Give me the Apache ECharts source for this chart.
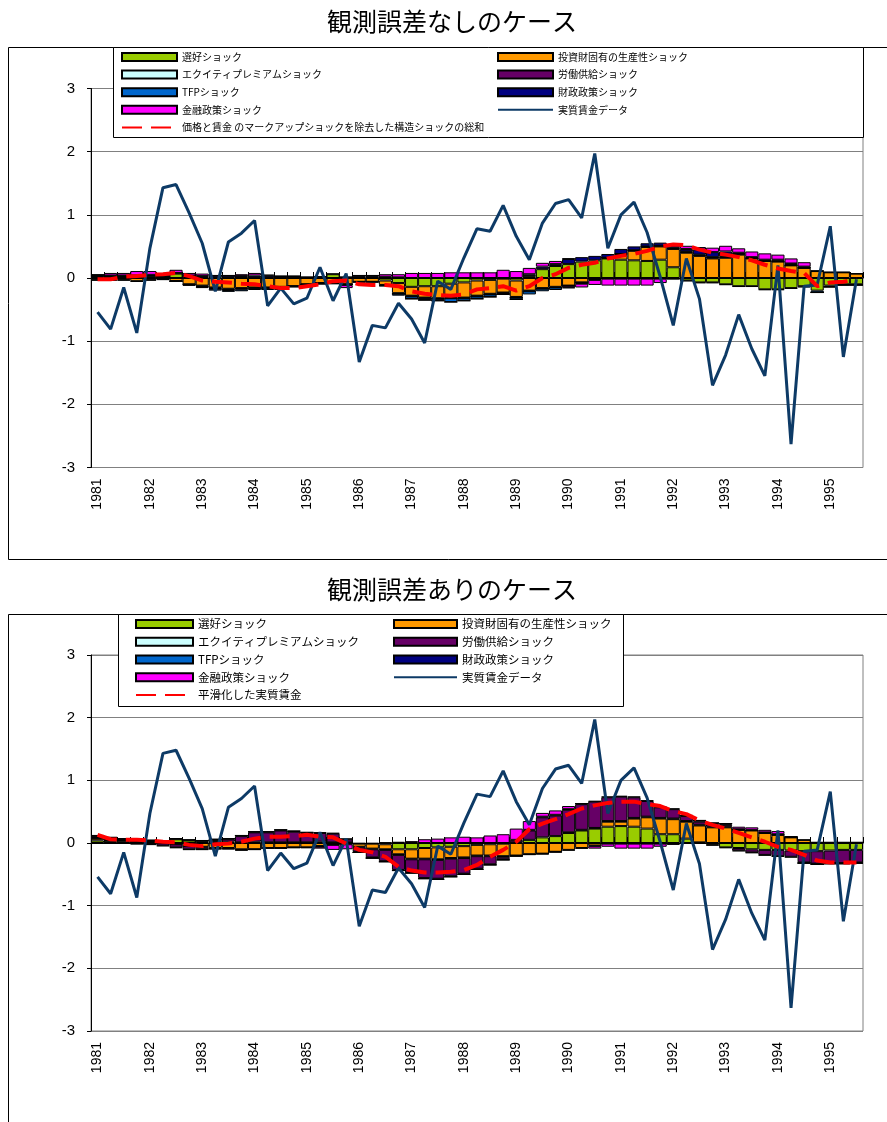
<!DOCTYPE html>
<html>
<head>
<meta charset="utf-8">
<script src="https://cdn.jsdelivr.net/npm/echarts@6/dist/echarts.min.js"></script>
<style>
html, body { margin: 0; padding: 0; background: #fff; }
#main { width: 887px; height: 1122px; }
</style>
</head>
<body>
<div id="main"></div>
<script>
// Quarterly axis: 1981Q1 .. 1995Q3
const years = [1981, 1982, 1983, 1984, 1985, 1986, 1987, 1988, 1989, 1990, 1991, 1992, 1993, 1994, 1995];
const categories = [];
years.forEach(y => { ['Q1', 'Q2', 'Q3', 'Q4'].forEach(q => categories.push(y + q)); });
categories.length = 59;

const yTicks = { min: -3, max: 3, step: 1 };

// Real wage data (common to both panels)
const realWage = [
  -0.54, -0.81, -0.15, -0.87, 0.47, 1.43, 1.48, 1.03, 0.55, -0.21,
  0.57, 0.71, 0.91, -0.44, -0.16, -0.41, -0.32, 0.17, -0.36, 0.07,
  -1.33, -0.75, -0.79, -0.40, -0.65, -1.03, -0.05, -0.18, 0.32, 0.78,
  0.74, 1.15, 0.66, 0.29, 0.87, 1.18, 1.24, 0.95, 1.97, 0.47,
  1.00, 1.20, 0.72, 0.02, -0.75, 0.31, -0.33, -1.70, -1.22, -0.58,
  -1.12, -1.55, 0.20, -2.63, -0.13, -0.11, 0.82, -1.25, -0.02
];

// ---- Panel 1: without measurement error ----
const pref1 = [
  0.02, 0.01, 0.01, 0.02, 0.03, 0.02, 0.07, 0.03, 0.01, 0.01,
  0.01, 0.01, 0.01, 0.01, 0.01, 0.01, 0.01, 0.01, 0.06, 0.01,
  0.01, 0.01, -0.04, -0.08, -0.14, -0.13, -0.13, -0.09, -0.07, -0.04,
  -0.03, -0.01, -0.04, 0.03, 0.14, 0.19, 0.22, 0.26, 0.28, 0.31,
  0.29, 0.28, 0.27, 0.29, 0.17, -0.04, -0.07, -0.07, -0.10, -0.13,
  -0.13, -0.18, -0.18, -0.16, -0.13, -0.20, -0.12, -0.10, -0.10
];
const invest1 = [
  -0.03, -0.03, -0.03, -0.05, -0.03, -0.02, -0.05, -0.10, -0.12, -0.15,
  -0.17, -0.16, -0.15, -0.15, -0.14, -0.13, -0.10, -0.08, -0.07, -0.10,
  -0.06, -0.06, -0.07, -0.16, -0.14, -0.18, -0.19, -0.22, -0.24, -0.24,
  -0.22, -0.22, -0.26, -0.20, -0.16, -0.14, -0.12, -0.07, -0.01, 0.01,
  0.08, 0.15, 0.22, 0.21, 0.29, 0.40, 0.35, 0.31, 0.32, 0.37,
  0.31, 0.27, 0.26, 0.20, 0.16, 0.11, 0.09, 0.09, 0.07
];
const equity1 = [
  0.01, 0.01, 0.01, 0.01, 0.01, 0.01, 0.00, 0.00, -0.01, -0.01,
  -0.01, -0.01, -0.01, -0.01, -0.01, 0.00, 0.00, 0.00, 0.00, 0.00,
  0.00, 0.00, -0.01, -0.01, -0.01, -0.01, -0.01, -0.01, -0.01, -0.01,
  -0.01, -0.01, -0.01, -0.01, -0.01, -0.01, 0.00, 0.00, 0.00, 0.00,
  0.01, 0.01, 0.01, 0.01, 0.01, 0.01, 0.01, 0.01, 0.01, 0.01,
  0.00, 0.00, 0.00, 0.00, 0.00, 0.00, 0.00, 0.00, 0.00
];
const labor1 = [
  0.01, 0.01, 0.01, 0.00, 0.00, 0.00, 0.00, -0.01, -0.01, -0.01,
  -0.01, -0.01, 0.00, 0.00, 0.00, 0.00, 0.00, 0.00, 0.00, 0.00,
  0.01, 0.01, 0.01, 0.00, 0.00, 0.00, 0.00, 0.00, 0.00, 0.00,
  0.00, 0.00, 0.00, 0.00, 0.00, 0.00, -0.03, -0.01, -0.01, 0.00,
  0.00, 0.00, 0.00, 0.00, 0.01, 0.01, 0.01, 0.01, 0.01, 0.01,
  0.01, 0.01, 0.02, 0.02, 0.01, 0.00, 0.00, 0.00, 0.00
];
const tfp1 = [
  -0.01, -0.01, -0.01, -0.01, -0.01, -0.01, -0.01, -0.01, -0.02, -0.03,
  -0.03, -0.03, -0.03, -0.03, -0.04, -0.02, -0.02, -0.01, -0.01, -0.01,
  -0.01, -0.01, -0.01, -0.03, -0.04, -0.03, -0.03, -0.06, -0.04, -0.04,
  -0.04, -0.02, -0.03, -0.05, -0.04, -0.04, -0.01, -0.01, -0.01, -0.01,
  -0.01, -0.01, -0.01, -0.01, -0.01, -0.01, -0.01, -0.01, -0.01, -0.01,
  -0.01, -0.01, -0.01, -0.01, -0.02, -0.03, -0.02, -0.01, -0.01
];
const fiscal1 = [
  0.01, 0.01, 0.01, 0.01, 0.01, 0.01, 0.01, 0.01, 0.02, 0.03,
  0.03, 0.02, 0.03, 0.03, 0.02, 0.02, 0.01, 0.02, 0.01, 0.01,
  0.02, 0.02, 0.01, 0.01, 0.00, 0.00, 0.00, 0.00, 0.00, 0.00,
  0.00, 0.00, 0.00, 0.03, 0.04, 0.03, 0.08, 0.07, 0.07, 0.06,
  0.08, 0.06, 0.05, 0.05, 0.05, 0.04, 0.08, 0.08, 0.08, 0.01,
  0.01, 0.01, 0.01, 0.01, 0.01, 0.00, 0.00, 0.00, 0.00
];
const monetary1 = [
  0.00, 0.04, 0.04, 0.07, 0.06, 0.04, 0.05, 0.04, 0.04, 0.00,
  0.00, 0.03, 0.04, 0.01, 0.00, 0.00, -0.01, -0.01, -0.02, -0.05,
  0.00, 0.00, 0.04, 0.05, 0.08, 0.08, 0.08, 0.09, 0.09, 0.09,
  0.09, 0.13, 0.11, 0.10, 0.06, 0.05, 0.01, -0.06, -0.08, -0.11,
  -0.11, -0.11, -0.11, -0.07, -0.01, 0.05, 0.04, 0.07, 0.09, 0.07,
  0.09, 0.10, 0.08, 0.08, 0.07, 0.00, 0.00, 0.00, 0.00
];
const shockSum1 = [
  -0.02, -0.02, 0.02, 0.03, 0.05, 0.06, 0.08, 0.03, -0.04, -0.06,
  -0.07, -0.09, -0.10, -0.13, -0.16, -0.16, -0.13, -0.10, -0.05, -0.04,
  -0.10, -0.11, -0.11, -0.13, -0.21, -0.25, -0.27, -0.28, -0.26, -0.18,
  -0.16, -0.13, -0.20, -0.13, 0.00, 0.06, 0.16, 0.21, 0.24, 0.31,
  0.35, 0.38, 0.43, 0.50, 0.53, 0.52, 0.45, 0.40, 0.37, 0.33,
  0.28, 0.21, 0.15, 0.11, 0.08, -0.13, -0.07, -0.06, -0.02
];

// ---- Panel 2: with measurement error ----
const pref2 = [
  0.04, 0.03, 0.03, 0.02, 0.02, 0.01, 0.06, 0.04, 0.03, 0.03,
  0.02, 0.01, 0.02, 0.01, 0.01, 0.01, 0.01, 0.02, 0.01, 0.01,
  -0.01, -0.01, -0.02, -0.10, -0.10, -0.08, -0.07, -0.06, -0.05, -0.03,
  -0.02, -0.01, 0.01, 0.05, 0.09, 0.11, 0.16, 0.20, 0.23, 0.26,
  0.27, 0.26, 0.23, 0.14, 0.14, 0.07, 0.01, -0.03, -0.07, -0.08,
  -0.10, -0.11, -0.11, -0.12, -0.13, -0.13, -0.12, -0.11, -0.11
];
const invest2 = [
  0.03, 0.02, 0.02, 0.01, 0.01, 0.01, -0.02, -0.05, -0.06, -0.08,
  -0.08, -0.10, -0.10, -0.08, -0.08, -0.07, -0.07, -0.05, -0.02, -0.01,
  -0.05, -0.08, -0.08, -0.08, -0.15, -0.17, -0.19, -0.18, -0.18, -0.17,
  -0.18, -0.20, -0.20, -0.18, -0.17, -0.14, -0.11, -0.08, -0.04, 0.08,
  0.07, 0.13, 0.18, 0.25, 0.24, 0.27, 0.27, 0.25, 0.25, 0.21,
  0.20, 0.16, 0.13, 0.09, 0.05, 0.01, 0.01, 0.01, 0.01
];
const equity2 = [
  0.01, 0.01, 0.00, 0.00, 0.00, 0.00, 0.00, 0.00, -0.01, -0.01,
  -0.01, -0.01, 0.00, 0.00, 0.00, 0.00, 0.00, 0.00, 0.00, 0.00,
  -0.01, -0.01, -0.01, -0.01, -0.01, -0.01, -0.01, -0.01, -0.01, -0.01,
  -0.01, -0.01, 0.00, 0.00, 0.00, 0.00, 0.01, 0.01, 0.01, 0.01,
  0.01, 0.01, 0.01, 0.01, 0.01, 0.01, 0.01, 0.01, 0.01, 0.00,
  0.00, 0.00, 0.00, 0.00, 0.00, 0.00, 0.00, 0.00, 0.00
];
const labor2 = [
  0.03, 0.02, 0.01, -0.01, -0.02, -0.04, -0.05, -0.05, -0.03, 0.01,
  0.04, 0.10, 0.15, 0.16, 0.19, 0.17, 0.15, 0.14, 0.14, 0.05,
  -0.07, -0.13, -0.18, -0.24, -0.21, -0.30, -0.30, -0.28, -0.25, -0.20,
  -0.13, -0.04, 0.04, 0.15, 0.32, 0.33, 0.36, 0.41, 0.42, 0.38,
  0.39, 0.33, 0.25, 0.17, 0.15, 0.08, 0.05, 0.04, 0.03, -0.04,
  -0.05, -0.08, -0.10, -0.10, -0.18, -0.20, -0.20, -0.21, -0.20
];
const tfp2 = [
  -0.01, -0.01, -0.01, -0.01, -0.01, -0.01, -0.01, -0.01, -0.01, -0.01,
  -0.01, -0.01, -0.01, -0.01, -0.01, -0.01, -0.01, -0.01, -0.01, -0.01,
  -0.01, -0.01, -0.01, -0.01, -0.01, -0.01, -0.01, -0.01, -0.01, -0.01,
  -0.01, -0.01, -0.01, -0.01, -0.01, -0.01, -0.01, -0.01, -0.01, -0.01,
  -0.01, -0.01, -0.01, -0.01, -0.01, -0.01, -0.01, -0.01, -0.01, -0.01,
  -0.01, -0.01, -0.01, -0.01, -0.01, -0.01, -0.01, -0.01, -0.01
];
const fiscal2 = [
  0.01, 0.01, 0.01, 0.01, 0.01, 0.01, 0.01, 0.01, 0.01, 0.02,
  0.01, 0.01, 0.01, 0.01, 0.01, 0.01, 0.01, 0.01, 0.01, 0.01,
  0.00, 0.00, 0.00, 0.00, 0.00, 0.00, 0.00, 0.00, 0.00, 0.00,
  0.00, 0.00, 0.00, 0.01, 0.01, 0.01, 0.01, 0.01, 0.01, 0.01,
  0.01, 0.01, 0.01, 0.01, 0.01, 0.01, 0.02, 0.02, 0.02, 0.01,
  0.01, 0.01, 0.01, 0.01, 0.00, 0.00, 0.00, 0.00, 0.00
];
const monetary2 = [
  0.00, 0.00, 0.00, 0.00, 0.01, 0.00, 0.00, 0.00, 0.00, 0.00,
  0.00, 0.00, 0.00, 0.00, 0.00, 0.00, 0.00, -0.03, -0.08, -0.08,
  0.00, 0.00, 0.01, 0.02, 0.03, 0.06, 0.07, 0.09, 0.10, 0.09,
  0.12, 0.14, 0.18, 0.14, 0.06, 0.07, 0.05, 0.00, -0.04, -0.05,
  -0.08, -0.08, -0.08, -0.05, -0.02, 0.00, 0.00, 0.00, 0.00, 0.04,
  0.04, 0.04, 0.05, 0.00, 0.00, 0.00, 0.00, 0.00, 0.00
];
const smoothedWage2 = [
  0.13, 0.06, 0.05, 0.05, 0.04, 0.02, 0.01, -0.03, -0.05, -0.02,
  -0.01, 0.02, 0.07, 0.10, 0.10, 0.11, 0.13, 0.10, 0.09, -0.01,
  -0.11, -0.15, -0.22, -0.38, -0.44, -0.47, -0.47, -0.46, -0.43, -0.35,
  -0.22, -0.11, 0.02, 0.22, 0.31, 0.38, 0.46, 0.55, 0.60, 0.64,
  0.66, 0.66, 0.62, 0.59, 0.51, 0.46, 0.36, 0.29, 0.23, 0.16,
  0.09, 0.02, -0.06, -0.11, -0.19, -0.28, -0.31, -0.31, -0.31
];

const NAME = {
  pref: '選好ショック',
  invest: '投資財固有の生産性ショック',
  equity: 'エクイティプレミアムショック',
  labor: '労働供給ショック',
  tfp: 'TFPショック',
  fiscal: '財政政策ショック',
  monetary: '金融政策ショック',
  wage: '実質賃金データ',
  sum1: '価格と賃金 のマークアップショックを除去した構造ショックの総和',
  smooth2: '平滑化した実質賃金'
};
const COLOR = {
  pref: '#99cc00', invest: '#ff9900', equity: '#ccffff', labor: '#660066',
  tfp: '#0066cc', fiscal: '#000080', monetary: '#ff00ff',
  wage: '#0d3a66', red: '#ff0000'
};

const JP = '"Noto Sans CJK JP", sans-serif';
const NUM = '"Liberation Sans", Arial, sans-serif';

function bar(key, data, stack, xi, yi) {
  return {
    type: 'bar', name: NAME[key], data: data, stack: stack,
    xAxisIndex: xi, yAxisIndex: yi,
    barWidth: '100%', barCategoryGap: '0%',
    itemStyle: { color: COLOR[key], borderColor: '#000', borderWidth: 1 },
    emphasis: { disabled: true }, z: 2
  };
}
function line(name, data, color, width, type, xi, yi, z) {
  return {
    type: 'line', name: name, data: data, xAxisIndex: xi, yAxisIndex: yi,
    symbol: 'none', smooth: false,
    lineStyle: { color: color, width: width, type: type },
    itemStyle: { color: color },
    emphasis: { disabled: true }, z: z
  };
}
function panelSeries(sets, stack, xi, yi) {
  return [
    bar('pref', sets.pref, stack, xi, yi),
    bar('invest', sets.invest, stack, xi, yi),
    bar('equity', sets.equity, stack, xi, yi),
    bar('labor', sets.labor, stack, xi, yi),
    bar('tfp', sets.tfp, stack, xi, yi),
    bar('fiscal', sets.fiscal, stack, xi, yi),
    bar('monetary', sets.monetary, stack, xi, yi)
  ];
}

function labelAxis(gi) {
  return {
    gridIndex: gi, type: 'category', data: categories, position: 'bottom',
    axisLine: { show: false, onZero: false }, axisTick: { show: false },
    splitLine: { show: false },
    axisLabel: {
      interval: i => i % 4 === 0, formatter: v => v.slice(0, 4),
      rotate: 90, margin: 11, fontSize: 14, fontFamily: NUM, color: '#000'
    }
  };
}
function zeroAxis(gi) {
  return {
    gridIndex: gi, type: 'category', data: categories, position: 'top',
    axisLine: { show: true, onZero: true, lineStyle: { color: '#000', width: 1 } },
    axisTick: { show: true, interval: 0, length: 6, lineStyle: { color: '#000' } },
    axisLabel: { show: false }, splitLine: { show: false }
  };
}
function valueAxis(gi) {
  return {
    gridIndex: gi, type: 'value', min: yTicks.min, max: yTicks.max, interval: yTicks.step,
    axisLine: { show: true, onZero: false, lineStyle: { color: '#000', width: 1 } },
    axisTick: { show: true, length: 4, lineStyle: { color: '#000' } },
    axisLabel: { fontSize: 15, fontFamily: NUM, color: '#000', margin: 16 },
    splitLine: { show: true, lineStyle: { color: '#808080', width: 1 } }
  };
}

// Line entries show only their stroke; bar entries use a plain rectangle.
function legendBlock(left, top, names, size, itemWidth, lineH, spacing) {
  return {
    orient: 'vertical', left: left, top: top, padding: 0,
    itemWidth: itemWidth, itemHeight: 8, itemGap: spacing - lineH,
    selectedMode: false, z: 10,
    textStyle: { fontSize: size, lineHeight: lineH, fontFamily: JP, color: '#000' },
    data: names.map(n => (n === NAME.wage || n === NAME.sum1 || n === NAME.smooth2)
      ? { name: n, itemStyle: { opacity: 0 } } : { name: n, icon: 'rect' })
  };
}

const series = []
  .concat(panelSeries({ pref: pref1, invest: invest1, equity: equity1, labor: labor1,
    tfp: tfp1, fiscal: fiscal1, monetary: monetary1 }, 'p1', 0, 0))
  .concat([
    line(NAME.wage, realWage, COLOR.wage, 3, 'solid', 0, 0, 3),
    line(NAME.sum1, shockSum1, COLOR.red, 4, [20, 9], 0, 0, 4)
  ])
  .concat(panelSeries({ pref: pref2, invest: invest2, equity: equity2, labor: labor2,
    tfp: tfp2, fiscal: fiscal2, monetary: monetary2 }, 'p2', 2, 1))
  .concat([
    line(NAME.wage, realWage, COLOR.wage, 3, 'solid', 2, 1, 3),
    line(NAME.smooth2, smoothedWage2, COLOR.red, 4, [20, 9], 2, 1, 4)
  ]);

const chart = echarts.init(document.getElementById('main'), null, { renderer: 'canvas' });
chart.setOption({
  animation: false,
  backgroundColor: '#fff',
  title: [
    { text: '観測誤差なしのケース', left: 327, top: 9, padding: 0,
      textStyle: { fontSize: 25, fontWeight: 'normal', fontFamily: JP, color: '#000' } },
    { text: '観測誤差ありのケース', left: 327, top: 577, padding: 0,
      textStyle: { fontSize: 25, fontWeight: 'normal', fontFamily: JP, color: '#000' } }
  ],
  grid: [
    { left: 91, top: 88.5, width: 772, height: 379, show: true, borderColor: '#808080', borderWidth: 1 },
    { left: 91, top: 655, width: 772, height: 376, show: true, borderColor: '#808080', borderWidth: 1 }
  ],
  xAxis: [labelAxis(0), zeroAxis(0), labelAxis(1), zeroAxis(1)],
  yAxis: [valueAxis(0), valueAxis(1)],
  legend: [
    legendBlock(121, 50, [NAME.pref, NAME.equity, NAME.tfp, NAME.monetary, NAME.sum1], 10, 55, 14, 17.6),
    legendBlock(497, 50, [NAME.invest, NAME.labor, NAME.fiscal, NAME.wage], 10, 55, 14, 17.6),
    legendBlock(135, 617, [NAME.pref, NAME.equity, NAME.tfp, NAME.monetary, NAME.smooth2], 11.5, 57, 14, 17.75),
    legendBlock(393, 617, [NAME.invest, NAME.labor, NAME.fiscal, NAME.wage], 11.5, 63, 14, 17.75)
  ],
  graphic: { elements: [
    { type: 'rect', silent: true, z: 1, shape: { x: 8.5, y: 47.5, width: 900, height: 512 },
      style: { fill: 'none', stroke: '#000', lineWidth: 1 } },
    { type: 'rect', silent: true, z: 1, shape: { x: 8.5, y: 614.5, width: 900, height: 600 },
      style: { fill: 'none', stroke: '#000', lineWidth: 1 } },
    { type: 'rect', silent: true, z: 5, shape: { x: 113.5, y: 47.5, width: 750, height: 90 },
      style: { fill: '#fff', stroke: '#000', lineWidth: 1 } },
    { type: 'rect', silent: true, z: 5, shape: { x: 118.5, y: 614.5, width: 505, height: 92 },
      style: { fill: '#fff', stroke: '#000', lineWidth: 1 } }
  ] },
  series: series
});
</script>
</body>
</html>
